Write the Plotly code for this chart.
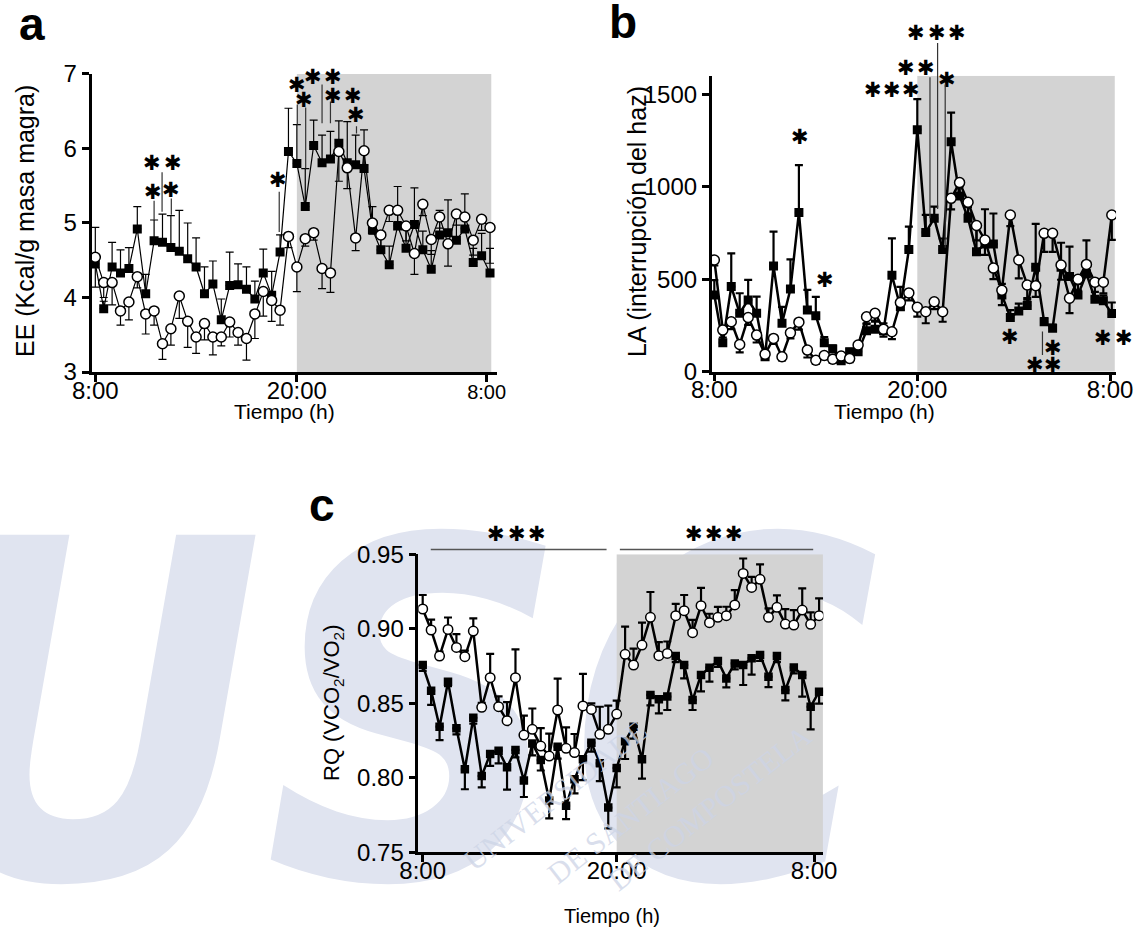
import plotly.graph_objects as go

FONT = "Liberation Sans, Arial, Helvetica, sans-serif"
STAR_FONT = "DejaVu Sans"

# ---------------- data ----------------
idx = list(range(48))  # 30-min bins from 8:00

# Panel a: EE (Kcal/g masa magra)
a_ko = [4.45, 3.85, 4.41, 4.33, 4.39, 4.92, 4.05, 4.76, 4.74, 4.67,
        4.62, 4.52, 4.41, 4.05, 4.18, 3.70, 4.16, 4.17, 4.11, 3.98,
        4.33, 4.03, 4.61, 5.96, 5.80, 5.22, 6.04, 5.81, 5.86, 6.07,
        5.81, 5.78, 5.73, 4.91, 4.64, 4.44, 4.96, 4.66, 4.98, 4.64,
        4.38, 4.84, 4.87, 4.77, 4.92, 4.47, 4.56, 4.33]
a_ko_err = [0.49, 0.10, 0.33, 0.31, 0.28, 0.30, 0.26, 0.28, 0.38, 0.43,
            0.55, 0.48, 0.39, 0.36, 0.31, 0.28, 0.45, 0.28, 0.30, 0.24,
            0.32, 0.32, 0.23, 0.58, 0.52, 0.51, 0.34, 0.37, 0.37, 0.30,
            0.55, 0.40, 0.52, 0.31, 0.20, 0.25, 0.53, 0.25, 0.49, 0.25,
            0.25, 0.33, 0.44, 0.30, 0.47, 0.19, 0.30, 0.33]
a_wt = [4.54, 4.20, 4.20, 3.82, 3.94, 4.28, 3.78, 3.82, 3.38, 3.58,
        4.02, 3.68, 3.47, 3.65, 3.47, 3.47, 3.67, 3.53, 3.45, 3.78,
        4.08, 3.96, 3.83, 4.82, 4.41, 4.79, 4.87, 4.39, 4.33, 5.96,
        5.74, 4.80, 5.97, 5.00, 4.84, 5.17, 5.17, 4.96, 4.59, 5.25,
        4.78, 5.08, 4.72, 5.12, 5.08, 4.77, 5.05, 4.94]
a_wt_err = [0.40, 0.20, 0.30, 0.19, 0.24, 0.15, 0.27, 0.19, 0.21, 0.22,
            0.30, 0.35, 0.22, 0.22, 0.24, 0.12, 0.20, 0.17, 0.29, 0.33,
            0.33, 0.28, 0.20, 0.15, 0.33, 0.10, 0.10, 0.27, 0.26, 0.40,
            0.28, 0.17, 0.20, 0.15, 0.20, 0.15, 0.15, 0.20, 0.28, 0.15,
            0.20, 0.15, 0.30, 0.15, 0.15, 0.20, 0.15, 0.48]

# Panel b: LA (interrupcion del haz)
b_ko = [415, 157, 460, 316, 388, 316, 81, 571, 262, 447,
        860, 334, 303, 157, 123, 60, 108, 108, 222, 230,
        222, 521, 351, 660, 1308, 753, 829, 660, 1243, 950,
        830, 649, 690, 690, 415, 293, 328, 358, 565, 270,
        235, 565, 514, 415, 530, 392, 383, 314]
b_ko_err = [80, 60, 180, 108, 108, 90, 20, 186, 89, 160,
            257, 108, 102, 30, 20, 15, 15, 30, 40, 40,
            40, 200, 108, 124, 165, 95, 63, 60, 157, 50,
            60, 140, 188, 165, 60, 40, 40, 40, 234, 20,
            20, 132, 162, 60, 180, 40, 30, 60]
b_wt = [604, 225, 270, 147, 293, 198, 95, 180, 81, 210,
        268, 117, 62, 88, 68, 85, 72, 144, 297, 316,
        230, 216, 374, 426, 348, 324, 378, 324, 937, 1022,
        916, 790, 712, 560, 440, 847, 604, 469, 465, 748,
        748, 577, 397, 500, 580, 484, 484, 847]
b_wt_err = [30, 40, 40, 42, 40, 40, 20, 30, 20, 30,
            40, 40, 20, 20, 20, 20, 20, 30, 40, 40,
            40, 40, 40, 40, 50, 62, 40, 54, 60, 60,
            60, 80, 80, 60, 80, 60, 100, 80, 60, 100,
            100, 80, 80, 60, 60, 80, 60, 135]

# Panel c: RQ (VCO2/VO2)
c_ko = [0.8757, 0.8585, 0.8343, 0.8645, 0.8332, 0.8057, 0.8403, 0.8012, 0.8160, 0.8182,
        0.8070, 0.8187, 0.7981, 0.8231, 0.8119, 0.7847, 0.8209, 0.7813, 0.7990, 0.8124,
        0.8236, 0.8097, 0.7800, 0.8066, 0.8246, 0.8343, 0.8124, 0.8556, 0.8527, 0.8545,
        0.8817, 0.8757, 0.8522, 0.8690, 0.8739, 0.8784, 0.8667, 0.8768, 0.8757, 0.8802,
        0.8824, 0.8679, 0.8817, 0.8589, 0.8741, 0.8690, 0.8477, 0.8578]
c_ko_err = [0.004, 0.0096, 0.009, 0.003, 0.004, 0.0134, 0.004, 0.0076, 0.008, 0.0085,
            0.015, 0.005, 0.011, 0.008, 0.007, 0.012, 0.008, 0.009, 0.0094, 0.014,
            0.006, 0.012, 0.014, 0.013, 0.012, 0.008, 0.013, 0.007, 0.0094, 0.009,
            0.004, 0.009, 0.0067, 0.011, 0.0094, 0.004, 0.006, 0.004, 0.0134, 0.011,
            0.004, 0.007, 0.004, 0.007, 0.004, 0.0145, 0.0152, 0.008]
c_wt = [0.9133, 0.8992, 0.8817, 0.8996, 0.8875, 0.8813, 0.8985, 0.8473, 0.8672, 0.8477,
        0.8383, 0.8672, 0.8287, 0.8325, 0.8213, 0.8146, 0.8455, 0.8198, 0.8169, 0.8482,
        0.8459, 0.8292, 0.8325, 0.8428, 0.8829, 0.8757, 0.8891, 0.9077, 0.8820, 0.8835,
        0.9088, 0.9122, 0.8974, 0.9155, 0.9041, 0.9077, 0.9088, 0.9160, 0.9372, 0.9278,
        0.9332, 0.9077, 0.9144, 0.9032, 0.9025, 0.9126, 0.9030, 0.9088]
c_wt_err = [0.0094, 0.007, 0.003, 0.008, 0.009, 0.004, 0.0085, 0.003, 0.016, 0.007,
            0.0125, 0.019, 0.013, 0.014, 0.012, 0.015, 0.021, 0.014, 0.0125, 0.0215,
            0.004, 0.0185, 0.016, 0.009, 0.0186, 0.011, 0.015, 0.017, 0.009, 0.008,
            0.008, 0.0105, 0.0086, 0.012, 0.006, 0.007, 0.006, 0.010, 0.010, 0.007,
            0.010, 0.006, 0.008, 0.010, 0.010, 0.0145, 0.008, 0.0116]

# tick labels
a_ticks = [0, 24, 46.6]
b_ticks = [0, 24, 46.8]
c_ticks = [0, 23, 46.4]
tick_text = ["8:00", "20:00", "8:00"]

# significance marks: (x index, value)
a_stars = [(6.8, 5.80), (9.2, 5.80), (6.9, 5.42), (9.0, 5.44), (21.8, 5.58),
           (24.0, 6.85), (25.95, 6.96), (28.3, 6.96), (24.8, 6.65), (28.3, 6.70),
           (30.7, 6.70), (31.1, 6.45)]
a_lines = [(7.0, 5.32, 5.04), (7.95, 5.70, 5.15), (9.05, 5.35, 5.11), (21.9, 5.44, 4.88),
           (24.05, 6.61, 6.32), (25.05, 6.57, 5.73), (27.0, 6.88, 6.34), (28.0, 6.65, 6.34),
           (31.1, 6.32, 6.20)]
b_stars = [(10.1, 1270), (13.1, 496),
           (23.9, 1829), (26.3, 1829), (28.7, 1829),
           (22.7, 1640), (25.0, 1640),
           (18.8, 1523), (21.0, 1523), (23.3, 1523),
           (27.5, 1577),
           (35.0, 186), (40.1, 126), (37.9, 36), (40.1, 36), (46.0, 180), (48.4, 180)]
b_lines = [(26.4, 1784, 880), (25.5, 1600, 830), (27.3, 1560, 670), (38.8, 225, 90)]
c_stars = [(8.75, 0.9636), (11.15, 0.9636), (13.55, 0.9636),
           (32.15, 0.9636), (34.55, 0.9636), (36.95, 0.9636)]
c_bars = [(0.78, 21.8, 0.9533), (23.2, 46.3, 0.9533)]

# axis ranges
RANGES = {2: ((-0.45, 47.79), (3, 7)),
          3: ((-0.31, 47.5), (0, 1600)),
          4: ((-0.52, 47.5), (0.75, 0.95))}

# ---------------- figure ----------------
fig = go.Figure()

# watermark (own full-page subplot, drawn beneath the panels)
fig.add_trace(go.Scatter(x=[400], y=[760], mode="text", text=["USC"],
                         textfont=dict(family="DejaVu Sans Condensed", size=470, color="#e0e4f0",
                                       weight="bold", style="italic"),
                         cliponaxis=False, hoverinfo="skip", showlegend=False,
                         xaxis="x", yaxis="y"))

def add_panel(n, ko, ko_err, wt, wt_err, ko_up, lw, ebw, msz):
    xa, ya = "x%d" % n, "y%d" % n
    zeros = [0] * len(ko)
    fig.add_trace(go.Scatter(
        x=idx, y=ko, mode="lines+markers", xaxis=xa, yaxis=ya, showlegend=False,
        line=dict(color="black", width=lw),
        marker=dict(symbol="square", size=msz, color="black", line=dict(width=0)),
        error_y=dict(type="data", symmetric=False,
                     array=ko_err if ko_up else zeros,
                     arrayminus=zeros if ko_up else ko_err,
                     color="black", thickness=ebw, width=4)))
    fig.add_trace(go.Scatter(
        x=idx, y=wt, mode="lines+markers", xaxis=xa, yaxis=ya, showlegend=False,
        line=dict(color="black", width=lw),
        marker=dict(symbol="circle", size=msz + 1, color="white",
                    line=dict(color="black", width=1.5)),
        error_y=dict(type="data", symmetric=False,
                     array=zeros if ko_up else wt_err,
                     arrayminus=wt_err if ko_up else zeros,
                     color="black", thickness=ebw, width=4)))

add_panel(2, a_ko, a_ko_err, a_wt, a_wt_err, True, 1.2, 1.2, 9)
add_panel(3, b_ko, b_ko_err, b_wt, b_wt_err, True, 2.5, 2.2, 9)
add_panel(4, c_ko, c_ko_err, c_wt, c_wt_err, False, 2.5, 2.2, 8.5)

axis_common = dict(showgrid=False, zeroline=False, showline=True, linecolor="black",
                   linewidth=2.5, ticks="outside", ticklen=7, tickwidth=2.5,
                   tickcolor="black", tickfont=dict(family=FONT, size=24, color="black"),
                   automargin=False)

shapes = []
def shade(n, x0, x1):
    y0, y1 = RANGES[n][1]
    shapes.append(dict(type="rect", xref="x%d" % n, yref="y%d" % n, x0=x0, x1=x1,
                       y0=y0, y1=y1, fillcolor="#d3d3d3", line=dict(width=0),
                       layer="below"))
shade(2, 24, 47.15)
shade(3, 24, 47.35)
shade(4, 23, 47.45)

def fx(n, x):
    lo, hi = RANGES[n][0]
    return (x - lo) / (hi - lo)

def fy(n, y):
    lo, hi = RANGES[n][1]
    return (y - lo) / (hi - lo)

ann = []
# watermark words (pale, rotated)
for txt, x, y in [("UNIVERSIDADE", 555, 880), ("DE SANTIAGO", 630, 893),
                  ("DE COMPOSTELA", 710, 900)]:
    ann.append(dict(xref="paper", yref="paper", x=x / 1147, y=1 - y / 934, text=txt,
                    showarrow=False, textangle=-38,
                    font=dict(family="Liberation Serif", size=30,
                              color="rgba(205,212,230,0.75)")))

def star(n, x, y):
    ann.append(dict(xref="x%d domain" % n, yref="y%d domain" % n,
                    x=fx(n, x), y=fy(n, y), text="✱", showarrow=False,
                    font=dict(family=STAR_FONT, size=21, color="black"),
                    xanchor="center", yanchor="middle"))

def seg(n, x0, y0, x1, y1, w, col):
    ann.append(dict(xref="x%d domain" % n, yref="y%d domain" % n,
                    x=fx(n, x1), y=fy(n, y1),
                    axref="x%d domain" % n, ayref="y%d domain" % n,
                    ax=fx(n, x0), ay=fy(n, y0), text="",
                    showarrow=True, arrowhead=0, arrowwidth=w, arrowcolor=col,
                    standoff=0, startstandoff=0))

for x, y in a_stars:
    star(2, x, y)
for x, y0, y1 in a_lines:
    seg(2, x, y0, x, y1, 1.2, "#333333")
for x, y in b_stars:
    star(3, x, y)
for x, y0, y1 in b_lines:
    seg(3, x, y0, x, y1, 1.2, "#333333")
for x, y in c_stars:
    star(4, x, y)
for x0, x1, y in c_bars:
    seg(4, x0, y, x1, y, 1.5, "#555555")

def ptext(txt, x, y, size, angle=0, bold=False):
    ann.append(dict(xref="paper", yref="paper", x=x / 1147, y=1 - y / 934,
                    text=("<b>%s</b>" % txt) if bold else txt, showarrow=False,
                    textangle=angle, xanchor="center", yanchor="middle",
                    font=dict(family=FONT, size=size, color="black")))

ptext("EE (Kcal/g masa magra)", 25, 221, 25, -90)
ptext("Tiempo (h)", 284, 411, 21)
ptext("LA (interrupción del haz)", 637, 222, 25, -90)
ptext("Tiempo (h)", 884, 411, 21)
ptext("RQ (VCO<sub>2</sub>/VO<sub>2</sub>)", 333, 703, 22, -90)
ptext("Tiempo (h)", 612, 916, 20)
ptext("a", 32, 24, 46, bold=True)
ptext("b", 623, 22, 46, bold=True)
ptext("c", 322, 505, 46, bold=True)

xt = dict(tickmode="array", ticklabelstandoff=-12)
fig.update_layout(
    width=1147, height=934, margin=dict(l=0, r=0, t=0, b=0, autoexpand=False),
    paper_bgcolor="white", plot_bgcolor="rgba(0,0,0,0)",
    showlegend=False, shapes=shapes, annotations=ann,
    xaxis=dict(domain=[0, 1], range=[0, 1147], visible=False, fixedrange=True),
    yaxis=dict(domain=[0, 1], range=[934, 0], visible=False, fixedrange=True),
    xaxis2=dict(axis_common, **xt, domain=[0.0798, 0.4330], range=list(RANGES[2][0]),
                anchor="y2", tickvals=a_ticks,
                ticktext=["8:00", "20:00", '<span style="font-size:20px">8:00</span>']),
    yaxis2=dict(axis_common, domain=[0.6017, 0.9208], range=list(RANGES[2][1]), anchor="x2",
                tickmode="array", tickvals=[3, 4, 5, 6, 7]),
    xaxis3=dict(axis_common, **xt, domain=[0.6205, 0.9730], range=list(RANGES[3][0]),
                anchor="y3", tickvals=b_ticks, ticktext=tick_text),
    yaxis3=dict(axis_common, domain=[0.6020, 0.9190], range=list(RANGES[3][1]), anchor="x3",
                tickmode="array", tickvals=[0, 500, 1000, 1500]),
    xaxis4=dict(axis_common, **xt, domain=[0.3647, 0.7178], range=list(RANGES[4][0]),
                anchor="y4", tickvals=c_ticks, ticktext=tick_text),
    yaxis4=dict(axis_common, domain=[0.0875, 0.4065], range=list(RANGES[4][1]), anchor="x4",
                tickmode="array", tickvals=[0.75, 0.80, 0.85, 0.90, 0.95],
                ticktext=["0.75", "0.80", "0.85", "0.90", "0.95"]),
)

fig.write_html("out.html", config={"displayModeBar": False},
               post_script="document.body.style.margin='0';")
